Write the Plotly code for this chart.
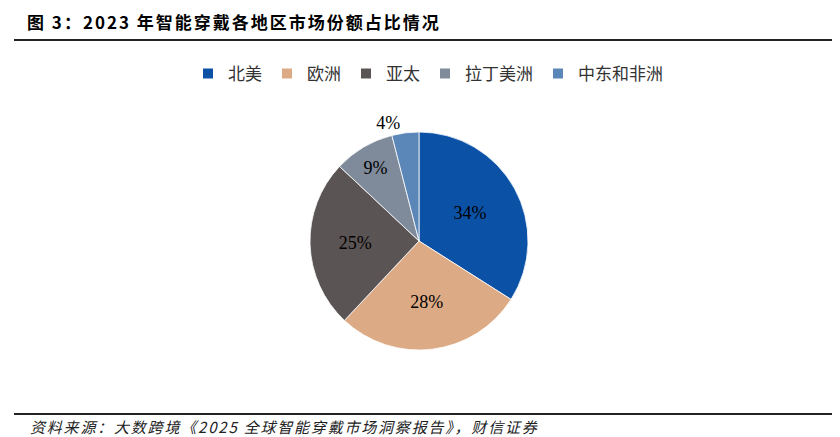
import plotly.graph_objects as go

regions = ["北美", "欧洲", "亚太", "拉丁美洲", "中东和非洲"]
shares = [34, 28, 25, 9, 4]
colors = ["#0b52a6", "#dcaa85", "#5b5454", "#7f8a9a", "#5b86b8"]
label_pos = ["inside", "inside", "inside", "inside", "outside"]

title_text = "图 3：2023 年智能穿戴各地区市场份额占比情况"
source_text = "资料来源：大数跨境《2025 全球智能穿戴市场洞察报告》，财信证券"

W, H = 840, 437

# pie box in pixels (left, right, top, bottom)
px_l, px_r, px_t, px_b = 302, 520, 124, 342

fig = go.Figure(go.Pie(
    labels=regions,
    values=shares,
    sort=False,
    direction="clockwise",
    rotation=0,
    marker=dict(colors=colors, line=dict(color="white", width=0.8)),
    texttemplate="%{value}%",
    textposition=label_pos,
    insidetextorientation="horizontal",
    textfont=dict(family="Liberation Serif", size=18, color="black"),
    domain=dict(x=[px_l / W, px_r / W], y=[(H - px_b) / H, (H - px_t) / H]),
    hoverinfo="label+percent",
))

fig.update_layout(
    width=W, height=H,
    margin=dict(l=0, r=0, t=0, b=0),
    paper_bgcolor="white",
    plot_bgcolor="white",
    showlegend=True,
    legend=dict(
        orientation="h", x=0.5, xanchor="center", y=1 - 66 / H, yanchor="middle",
        font=dict(family="Noto Sans CJK SC", size=17, color="#333333"),
        itemsizing="constant", itemwidth=30,
    ),
    annotations=[
        dict(text='<span style="letter-spacing:2px">' + title_text + "</span>",
             x=18 / W, y=1, xref="paper", yref="paper",
             xanchor="left", yanchor="top", showarrow=False, borderpad=0,
             font=dict(family="Noto Sans CJK SC", size=17, color="black", weight="bold")),
        dict(text='<span style="letter-spacing:1.8px">' + source_text + "</span>",
             x=20 / W, y=1 - 418 / H, xref="paper", yref="paper",
             xanchor="left", yanchor="middle", showarrow=False,
             font=dict(family="Noto Sans CJK SC", size=15, color="#222222", style="italic")),
    ],
    shapes=[
        dict(type="line", xref="paper", yref="paper", x0=6 / W, x1=835 / W,
             y0=1 - 32 / H, y1=1 - 32 / H, line=dict(color="#222222", width=2)),
        dict(type="line", xref="paper", yref="paper", x0=6 / W, x1=835 / W,
             y0=1 - 406 / H, y1=1 - 406 / H, line=dict(color="#222222", width=2)),
    ],
)

fig.write_html("out.html")
